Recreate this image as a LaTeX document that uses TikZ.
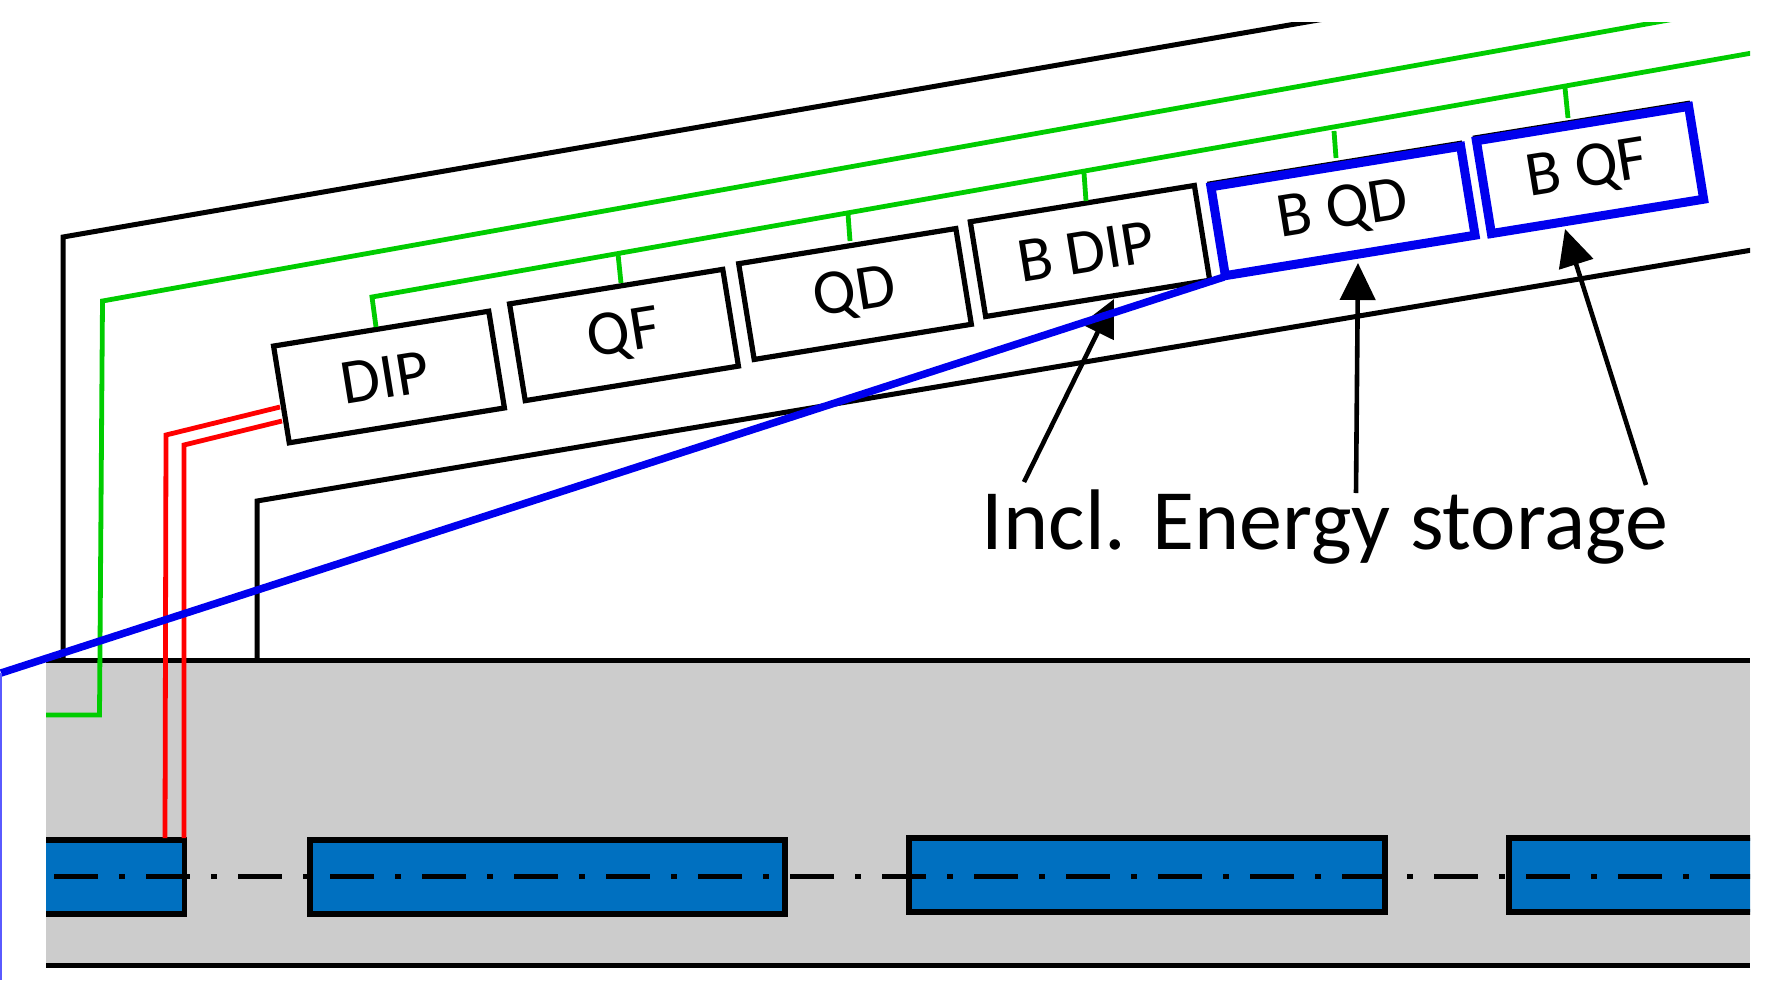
\documentclass[tikz,border=0pt]{standalone}
\usepackage{fontspec}
\setmainfont{Carlito}
\usetikzlibrary{arrows.meta}
\definecolor{bandgrey}{HTML}{CCCCCC}
\definecolor{magnet}{HTML}{0070C0}
\definecolor{cablegreen}{HTML}{00CC00}
\definecolor{cablered}{HTML}{FF0000}
\definecolor{hiblue}{HTML}{0000EE}
\definecolor{thinblue}{HTML}{5A5AFF}
\tikzset{
  x=1pt,y=-1pt,
  wall/.style={draw=black,line width=5pt,line join=miter},
  gline/.style={draw=cablegreen,line width=4.8pt,line join=miter},
  rline/.style={draw=cablered,line width=4.8pt,line join=miter},
  magbox/.style={draw=black,fill=magnet,line width=5.2pt},
  unitbox/.style={rectangle,draw=black,fill=white,line width=5.2pt,rotate=9.2,inner sep=0pt,font=\fontsize{64}{66}\selectfont,text=black},
  bluebox/.style={unitbox,draw=hiblue,line width=9pt},
  blackback/.style={rectangle,draw=black,line width=5pt,rotate=9.2,inner sep=0pt},
  callout/.style={draw=black,line width=4.6pt,-{Triangle[length=37pt,width=35pt]}},
  axisline/.style={draw=black,line width=5pt,dash pattern=on 44pt off 21pt on 6pt off 21pt},
}
\begin{document}
\begin{tikzpicture}
\useasboundingbox (0,0) rectangle (1768,980);
\begin{scope}
\clip (46,22) rectangle (1750,980);
% band
\fill[bandgrey] (46,660) rectangle (1750,965);
\draw[wall] (46,660) -- (1750,660);
\draw[wall] (46,965) -- (1750,965);
% building outline
\coordinate (outerfoot) at (63,660);
\coordinate (outercorner) at (63,237);
\coordinate (outerend) at (1330,18);
\coordinate (innerfoot) at (257,660);
\coordinate (innercorner) at (257,501);
\coordinate (innerend) at (1752,250);
\draw[wall] (outerfoot) -- (outercorner) -- (outerend);
\draw[wall] (innerfoot) -- (innercorner) -- (innerend);
% green feeders
\coordinate (g0) at (44,715);
\coordinate (g1) at (99.5,715);
\coordinate (g2) at (102.5,301);
\coordinate (g3) at (1680,18);
\draw[gline] (g0) -- (g1) -- (g2) -- (g3);
% magnets
\draw[magbox] (30,840) rectangle (184.5,914);
\draw[magbox] (310,840) rectangle (785,914);
\draw[magbox] (909,838) rectangle (1385,912);
\draw[magbox] (1509,838) rectangle (1770,912);
% axis
\coordinate (axisa) at (54,876);
\coordinate (axisb) at (1752,876);
\draw[axisline] (axisa) -- (axisb);
% power units
\node[unitbox,minimum width=218pt,minimum height=98pt] (dip) at (389,377) {DIP\hspace*{8pt}};
\node[unitbox,minimum width=216pt,minimum height=98pt] (qf) at (624,335) {QF};
\node[unitbox,minimum width=220pt,minimum height=97pt] (qd) at (855,294) {QD};
\node[unitbox,minimum width=227pt,minimum height=96pt] (bdip) at (1090,251) {B DIP\hspace*{8pt}};
\node[blackback,minimum width=253pt,minimum height=90pt] (bqdback) at (1342,208) {};
\node[bluebox,minimum width=253pt,minimum height=90pt] (bqd) at (1343,211) {B QD};
\node[blackback,minimum width=215pt,minimum height=94pt] (bqfback) at (1589,167) {};
\node[bluebox,minimum width=215pt,minimum height=94pt] (bqf) at (1590,170) {B QF\hspace*{6pt}};
% green bus and stubs
\coordinate (b0) at (372,297);
\coordinate (s0) at (376,327);
\coordinate (b1) at (618,254);
\coordinate (s1) at (621,283);
\coordinate (b2) at (848,214);
\coordinate (s2) at (850,241);
\coordinate (b3) at (1084,173);
\coordinate (s3) at (1086,201);
\coordinate (b4) at (1334,131);
\coordinate (s4) at (1336,158);
\coordinate (b5) at (1565,88);
\coordinate (s5) at (1568,118);
\coordinate (bend) at (1752,53);
\draw[gline] (s0) -- (b0) -- (bend);
\draw[gline] (b1) -- (s1);
\draw[gline] (b2) -- (s2);
\draw[gline] (b3) -- (s3);
\draw[gline] (b4) -- (s4);
\draw[gline] (b5) -- (s5);
% red feeders
\coordinate (r1a) at (280,407);
\coordinate (r1b) at (166,435);
\coordinate (r1c) at (165,838);
\coordinate (r2a) at (282,421);
\coordinate (r2b) at (184,445);
\coordinate (r2c) at (184,838);
\draw[rline] (r1a) -- (r1b) -- (r1c);
\draw[rline] (r2a) -- (r2b) -- (r2c);
% label and callouts
\node[inner sep=0pt,font=\fontsize{86}{90}\selectfont] (incl) at (1325,527) {Incl. Energy storage};
\coordinate (c1) at (1024,482);
\coordinate (c1e) at (1114,299);
\coordinate (c2) at (1356,493);
\coordinate (c2e) at (1358,263);
\coordinate (c3) at (1646,485);
\coordinate (c3e) at (1565,229);
\draw[callout] (c1) -- (c1e);
\draw[callout] (c2) -- (c2e);
\draw[callout] (c3) -- (c3e);
\end{scope}
% zoom lines
\coordinate (z0) at (1,673);
\coordinate (z1) at (1224,277);
\coordinate (z2) at (1,980);
\draw[draw=hiblue,line width=7.5pt] (z0) -- (z1);
\draw[draw=thinblue,line width=2pt] (z0) -- (z2);
\end{tikzpicture}
\end{document}
